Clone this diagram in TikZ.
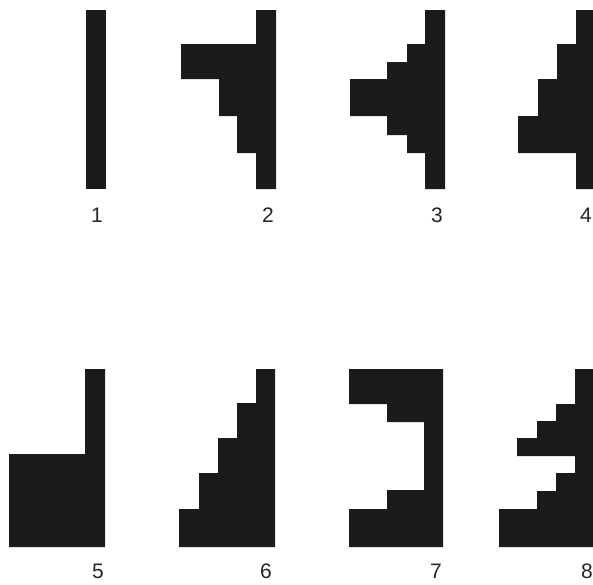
\documentclass[tikz,border=0pt]{standalone}
\usepackage{fontspec}
\setmainfont{Liberation Sans}
\usetikzlibrary{positioning}
\definecolor{blockgray}{RGB}{26,27,29}

\begin{document}
\begin{tikzpicture}[x=1pt, y=-1pt,
  blk/.style={fill=blockgray},
  lbl/.style={inner sep=0pt, font=\fontsize{21}{25}\selectfont, text=black!85}]
  \clip (0,0) rectangle (593,584);
  \fill[white] (0,0) rectangle (593,584);

  % top row
  \fill[blk] (86,10) rectangle (106,189);
  \fill[blk] (256,10) -- (276,10) -- (276,189) -- (256,189) -- (256,153)
    -- (237,153) -- (237,116) -- (219,116) -- (219,79) -- (181,79)
    -- (181,44) -- (256,44) -- cycle;
  \fill[blk] (425,10) -- (445,10) -- (445,189) -- (425,189) -- (425,153)
    -- (407,153) -- (407,135) -- (387,135) -- (387,116) -- (350,116)
    -- (350,79) -- (387,79) -- (387,62) -- (407,62) -- (407,44)
    -- (425,44) -- cycle;
  \fill[blk] (576,10) -- (596,10) -- (596,189) -- (576,189) -- (576,153)
    -- (518,153) -- (518,116) -- (538,116) -- (538,79) -- (557,79)
    -- (557,44) -- (576,44) -- cycle;

  % bottom row
  \fill[blk] (85,369) -- (105,369) -- (105,547) -- (9,547) -- (9,454)
    -- (85,454) -- cycle;
  \fill[blk] (256,369) -- (275,369) -- (275,547) -- (179,547) -- (179,509)
    -- (199,509) -- (199,473) -- (218,473) -- (218,438) -- (237,438)
    -- (237,403) -- (256,403) -- cycle;
  \fill[blk] (349,369) -- (443,369) -- (443,547) -- (349,547) -- (349,509)
    -- (387,509) -- (387,490) -- (424,490) -- (424,422) -- (387,422)
    -- (387,404) -- (349,404) -- cycle;
  \fill[blk] (575,369) -- (595,369) -- (595,547) -- (499,547) -- (499,509)
    -- (537,509) -- (537,491) -- (556,491) -- (556,473) -- (575,473)
    -- (575,456) -- (517,456) -- (517,438) -- (537,438) -- (537,421)
    -- (556,421) -- (556,404) -- (575,404) -- cycle;

  \foreach \n/\x/\y in {1/97/215, 2/268/215, 3/437/215, 4/586/215,
                        5/98/571, 6/266/571, 7/436/571, 8/587/571}
    \node[lbl] (num\n) at (\x,\y) {\n};
\end{tikzpicture}
\end{document}
